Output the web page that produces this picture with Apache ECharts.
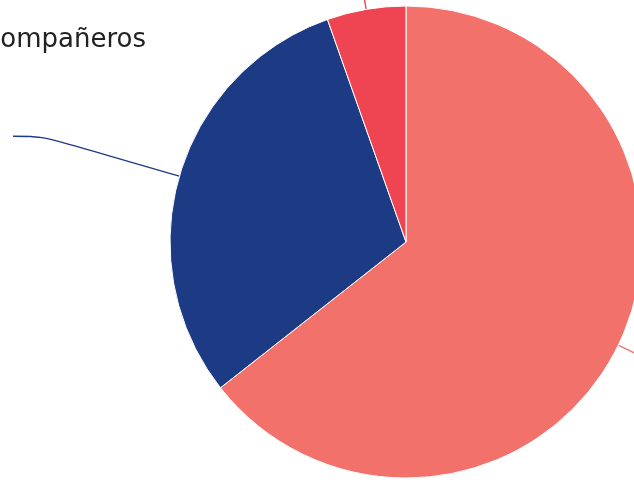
<!DOCTYPE html>
<html>
<head>
<meta charset="utf-8">
<script src="https://cdn.jsdelivr.net/npm/echarts@6/dist/echarts.min.js"></script>
<style>
html,body{margin:0;padding:0;width:634px;height:480px;overflow:hidden;background:#fff;}
#main{position:absolute;left:-300px;top:-150px;width:1234px;height:780px;}
</style>
</head>
<body>
<div id="main"></div>
<script>
// Data, clockwise from the top
var categories = ['Con la familia', 'Con amigos o compañeros', 'Solo/a'];
var values = [64.4, 30.2, 5.4];
var colors = ['#F2716B', '#1D3B84', '#EF4452'];
var caption = 'compañeros';

var OFFX = 300, OFFY = 150; // chart is wider than the window; window shows a crop

var chart = echarts.init(document.getElementById('main'), null, {renderer: 'canvas'});
var data = categories.map(function (c, i) {
  return {name: c, value: values[i], itemStyle: {color: colors[i]},
          labelLine: {lineStyle: {color: colors[i]}}};
});
chart.setOption({
  animation: false,
  textStyle: {fontFamily: 'DejaVu Sans'},
  graphic: [{
    type: 'text',
    x: OFFX + 146,
    y: OFFY + 40,
    style: {
      text: caption,
      align: 'right',
      verticalAlign: 'middle',
      font: '400 26px "DejaVu Sans"',
      fill: '#222222'
    }
  }],
  series: [{
    type: 'pie',
    center: [OFFX + 406, OFFY + 242],
    radius: [0, 236],
    startAngle: 90,
    clockwise: true,
    avoidLabelOverlap: false,
    itemStyle: {borderColor: '#ffffff', borderWidth: 1},
    label: {
      show: true,
      position: 'outside',
      formatter: '{b}',
      fontFamily: 'DejaVu Sans',
      fontSize: 20,
      color: '#222',
      distanceToLabelLine: 22
    },
    labelLine: {show: true, length: 143, length2: 29, smooth: 0.35, lineStyle: {width: 1.4}},
    emphasis: {disabled: true},
    data: data
  }]
});
</script>
</body>
</html>
